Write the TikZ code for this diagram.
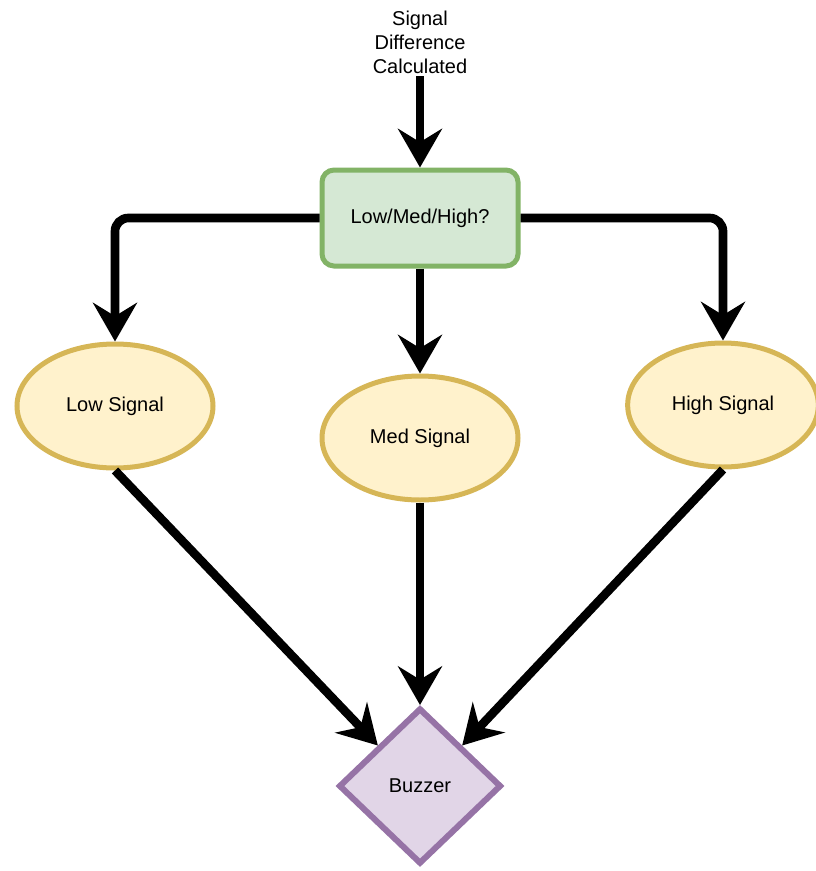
\documentclass[tikz,border=0pt]{standalone}
\usepackage{fontspec}
\setmainfont{Liberation Sans}
\usetikzlibrary{arrows.meta,positioning,shapes.geometric}
\definecolor{decfill}{HTML}{D5E8D4}
\definecolor{decline}{HTML}{82B366}
\definecolor{sigfill}{HTML}{FFF2CC}
\definecolor{sigline}{HTML}{D6B656}
\definecolor{outfill}{HTML}{E1D5E7}
\definecolor{outline}{HTML}{9673A6}

\begin{document}
\begin{tikzpicture}[
  x=0.75pt, y=-0.75pt,
  font=\fontsize{15pt}{18pt}\selectfont,
  decision/.style={rectangle, draw=decline, fill=decfill, line width=3.75pt,
                   rounded corners=9pt, minimum width=147pt, minimum height=72pt},
  signal/.style={ellipse, draw=sigline, fill=sigfill, line width=3.75pt,
                 minimum width=147pt, minimum height=93pt, inner sep=0pt},
  output/.style={diamond, draw=outline, fill=outfill, line width=4.5pt,
                 minimum width=122pt, minimum height=117pt, inner sep=0pt},
  arrow/.style={-{Stealth[length=29pt, width=33pt, inset=10pt]}, line width=6.5pt}
]
\useasboundingbox (0,0) rectangle (815,871);

% Input
\node[align=center, inner sep=2pt] (calc) at (420, 42)
  {Signal\\Difference\\Calculated};

% Decision
\node[decision] (level) at (420, 218) {Low/Med/High?};

% Signal levels
\node[signal] (low)  at (115, 406) {Low Signal};
\node[signal] (med)  at (420, 438) {Med Signal};
\node[signal, minimum width=143pt] (high) at (723, 405) {High Signal};

% Output
\node[output] (buzzer) at (420, 786) {Buzzer};

% Arrows
\draw[arrow] (calc) -- (level);
\draw[arrow, rounded corners=10pt] (level.west) -| (low);
\draw[arrow] (level) -- (med);
\draw[arrow, rounded corners=10pt] (level.east) -| (high);

\draw[arrow] (low.south) -- (buzzer.north west);
\draw[arrow] (med) -- (buzzer);
\draw[arrow] (high.south) -- (buzzer.north east);
\end{tikzpicture}
\end{document}
